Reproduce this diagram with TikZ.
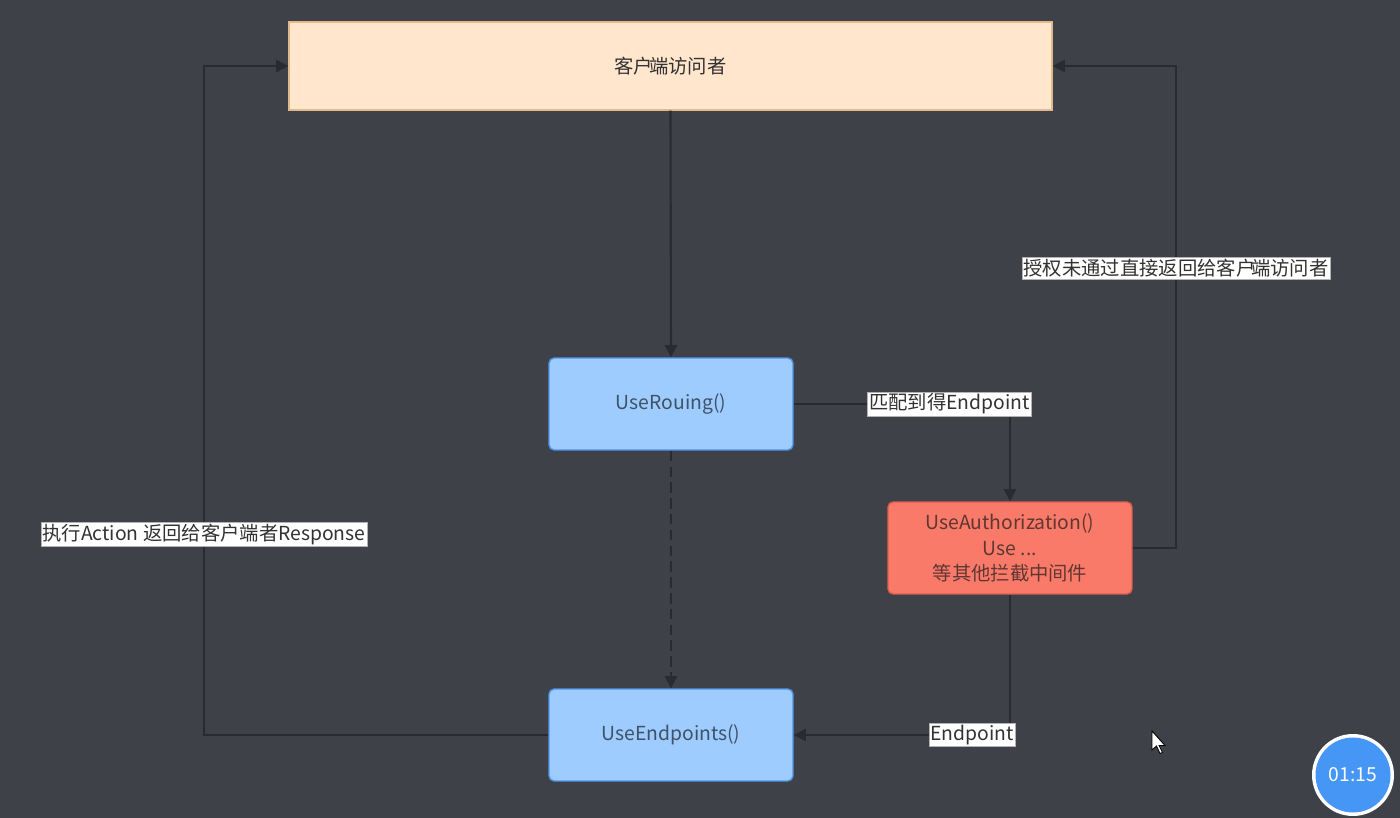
\documentclass[tikz,border=0pt]{standalone}
\usepackage{fontspec}
\setmainfont{Noto Sans CJK SC}
\usetikzlibrary{arrows.meta}
\definecolor{bgc}{RGB}{62,66,72}
\definecolor{linec}{RGB}{40,43,48}
\definecolor{peach}{RGB}{255,230,204}
\definecolor{peachb}{RGB}{225,185,140}
\definecolor{bluef}{RGB}{158,204,255}
\definecolor{blueb}{RGB}{80,150,235}
\definecolor{bluet}{RGB}{62,82,104}
\definecolor{salf}{RGB}{250,122,106}
\definecolor{salb}{RGB}{225,95,80}
\definecolor{salt}{RGB}{95,55,50}
\definecolor{lblt}{RGB}{50,50,50}
\definecolor{timerb}{RGB}{70,150,245}
\newcommand{\khd}{客户\kern-0.22em 端}
\tikzset{
  box/.style={draw, line width=0.8pt, inner sep=0pt, align=center,
    minimum width=4.88cm, minimum height=1.84cm, rounded corners=3pt,
    font=\fontsize{11}{14.5}\selectfont},
  bluebox/.style={box, fill=bluef, draw=blueb, text=bluet},
  redbox/.style={box, fill=salf, draw=salb, text=salt},
  conn/.style={draw=linec, line width=1.2pt, -{Triangle[length=7pt,width=7pt]}},
  lbl/.style={fill=white, text=lblt, inner sep=1pt, draw=gray!60, line width=0.3pt,
    font=\fontsize{11}{13}\selectfont}
}
\begin{document}
\begin{tikzpicture}[x=0.02cm,y=-0.02cm]
\useasboundingbox (0,0) rectangle (1400,818);
\fill[bgc] (0,0) rectangle (1400,818);

\node[draw=peachb, fill=peach, line width=0.8pt, inner sep=0pt,
  minimum width=15.26cm, minimum height=1.76cm, text=lblt,
  font=\fontsize{11}{14}\selectfont] (top) at (670.5,66) {\khd 访问者};
\node[bluebox] (rou) at (671,404) {UseRouing()};
\node[redbox] (auth) at (1010,548) {UseAuthorization()\\Use ...\\等其他拦截中间件};
\node[bluebox] (endp) at (671,735) {UseEndpoints()};

\coordinate (rturn) at (1176,66);
\coordinate (lturn) at (204,66);

\draw[conn] (top.south) -- (rou.north);
\draw[conn, dash pattern=on 6pt off 3pt] (rou.south) -- (endp.north);
\draw[conn] (rou.east) -- node[lbl,pos=0.72]{匹配到得Endpoint} (rou.east -| auth.north) -- (auth.north);
\draw[conn] (auth.south) -- (auth.south |- endp.east) -- node[lbl,pos=0.175]{Endpoint} (endp.east);
\draw[conn] (auth.east) -- (auth.east -| rturn) -- node[lbl,pos=0.58]{授权未通过直接返回给\khd 访问者} (rturn) -- (top.east);
\draw[conn] (endp.west) -- (endp.west -| lturn) -- node[lbl,pos=0.30]{执行Action 返回给客户端者Response} (lturn) -- (top.west);

% timer badge
\node[circle, fill=white, minimum size=1.64cm, inner sep=0pt] (timero) at (1353,775) {};
\node[circle, fill=timerb, minimum size=1.5cm, inner sep=0pt, text=white,
  font=\fontsize{11}{13}\selectfont] (timer) at (1353,775) {01:15};

% mouse cursor
\filldraw[fill=white, draw=black, line width=0.5pt]
  (1152,731) -- (1152,750) -- (1156.5,746) -- (1160,753.5) -- (1162.5,752.5) -- (1159,745.5) -- (1165,745.5) -- cycle;
\end{tikzpicture}
\end{document}
